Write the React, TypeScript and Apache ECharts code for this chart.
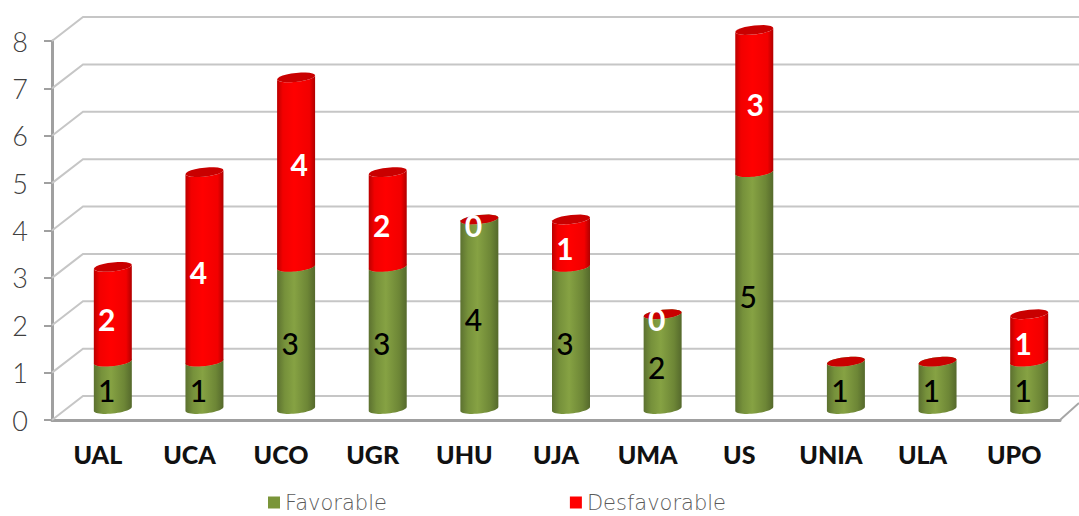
import React, { useEffect, useRef } from "react";
import * as echarts from "echarts";

const universities = ["UAL", "UCA", "UCO", "UGR", "UHU", "UJA", "UMA", "US", "UNIA", "ULA", "UPO"];
const favorable = [1, 1, 3, 3, 4, 3, 2, 5, 1, 1, 1];
const desfavorable: (number | null)[] = [2, 4, 4, 2, 0, 1, 0, 3, null, null, 1];
const yTicks = [0, 1, 2, 3, 4, 5, 6, 7, 8];

const FONT = "Lato, 'Open Sans', sans-serif";
const DEPTH_X = 31;
const DEPTH_Y = 24;
const BAR_SHIFT_X = 15;
const BAR_SHIFT_Y = 11;
const HALF = 19;
const RY = 4.5;
const TILT = 2;

// Two red labels sit away from their usual place in the picture.
const redLabelNudge: Record<string, number[]> = { UCO: [9, -13], US: [7, -2] };

function arc(cx: number, cy: number, from: number, to: number) {
  const pts: number[][] = [];
  const n = 24;
  for (let i = 0; i <= n; i++) {
    const t = from + ((to - from) * i) / n;
    pts.push([cx + HALF * Math.cos(t), cy + RY * Math.sin(t) - TILT * Math.cos(t)]);
  }
  return pts;
}

const gradGreen = () =>
  new echarts.graphic.LinearGradient(0, 0, 1, 0, [
    { offset: 0, color: "#5c7130" },
    { offset: 0.2, color: "#76913b" },
    { offset: 0.45, color: "#86a243" },
    { offset: 0.8, color: "#6d8636" },
    { offset: 1, color: "#55692c" },
  ]);
const gradRed = () =>
  new echarts.graphic.LinearGradient(0, 0, 1, 0, [
    { offset: 0, color: "#bb0000" },
    { offset: 0.15, color: "#f20000" },
    { offset: 0.45, color: "#ff0000" },
    { offset: 0.85, color: "#f20000" },
    { offset: 1, color: "#b00000" },
  ]);

function cylinder(
  gradient: () => any,
  capColor: string,
  labelColor: string,
  labelWeight: number,
  labelDx: number,
  nudge: Record<string, number[]>
) {
  return (_: any, api: any) => {
    const idx = api.value(0) as number;
    const start = api.value(1) as number;
    const end = api.value(2) as number;
    const text = api.value(3);
    const a = api.coord([idx, start]);
    const b = api.coord([idx, end]);
    const m = api.coord([idx, (start + end) / 2]);
    const cx = a[0] + BAR_SHIFT_X;
    const yBottom = a[1] - BAR_SHIFT_Y;
    const yTop = b[1] - BAR_SHIFT_Y;
    const children: any[] = [];
    if (end > start) {
      children.push({
        type: "polygon",
        shape: { points: [...arc(cx, yBottom, 0, Math.PI), ...arc(cx, yTop, Math.PI, 0)] },
        style: { fill: gradient() },
      });
    }
    children.push({
      type: "polygon",
      shape: { points: arc(cx, yTop, 0, Math.PI * 2) },
      style: { fill: capColor },
    });
    if (text !== null && text !== undefined && !Number.isNaN(text)) {
      const shift = nudge[universities[idx]] || [0, 0];
      children.push({
        type: "text",
        x: m[0] + labelDx + shift[0],
        y: m[1] - 6 + shift[1],
        style: {
          text: String(text),
          fill: labelColor,
          font: `${labelWeight} 30px ${FONT}`,
          textAlign: "center",
          textVerticalAlign: "middle",
        },
      });
    }
    return { type: "group", children };
  };
}

export default function App() {
  const ref = useRef<HTMLDivElement>(null);
  useEffect(() => {
    const chart = echarts.init(ref.current!, undefined, { renderer: "svg" });
    const wallStyle = { stroke: "#c6c6c6", lineWidth: 2, fill: "none" };
    const renderWall = (params: any, api: any) => {
      const p = api.coord([0, api.value(1)]);
      const x0 = params.coordSys.x;
      return {
        type: "polyline",
        shape: { points: [[x0, p[1]], [x0 + DEPTH_X, p[1] - DEPTH_Y], [1079, p[1] - DEPTH_Y]] },
        style: wallStyle,
      };
    };
    const renderFloorEdge = (params: any) => {
      const x1 = params.coordSys.x + params.coordSys.width;
      const y1 = params.coordSys.y + params.coordSys.height;
      return {
        type: "line",
        shape: { x1, y1, x2: x1 + 19, y2: y1 - 17 },
        style: { stroke: "#a6a6a6", lineWidth: 2 },
      };
    };
    chart.setOption({
      animation: false,
      backgroundColor: "#ffffff",
      grid: { left: 52, right: 19, top: 41, bottom: 96 },
      legend: {
        data: [{ name: "Favorable" }, { name: "Desfavorable" }],
        left: 268,
        top: 492,
        padding: 0,
        itemWidth: 12,
        itemHeight: 12,
        itemGap: 183,
        icon: "rect",
        textStyle: {
          fontFamily: "'DejaVu Sans', Lato, sans-serif",
          fontSize: 21,
          color: "#5a5a5a",
          fontWeight: 200,
        },
      },
      xAxis: {
        type: "category",
        data: universities,
        axisLine: { lineStyle: { color: "#a0a0a0", width: 3 } },
        axisTick: { length: 8, lineStyle: { color: "#a0a0a0", width: 2 } },
        axisLabel: {
          fontFamily: FONT,
          fontWeight: 900,
          fontSize: 25,
          color: "#111111",
          margin: 21,
          interval: 0,
        },
      },
      yAxis: {
        type: "value",
        min: 0,
        max: 8,
        interval: 1,
        splitLine: { show: false },
        axisLine: { show: true, lineStyle: { color: "#a0a0a0", width: 3 } },
        axisTick: { show: true, length: 8, lineStyle: { color: "#a0a0a0", width: 2 } },
        axisLabel: {
          fontFamily: FONT,
          fontWeight: 300,
          fontSize: 27,
          color: "#404040",
          margin: 24,
        },
      },
      series: [
        {
          type: "custom",
          name: "wall",
          silent: true,
          z: 1,
          renderItem: renderWall,
          data: yTicks.map((v) => [0, v]),
          encode: { x: 0, y: 1 },
        },
        {
          type: "custom",
          name: "floor",
          silent: true,
          z: 1,
          renderItem: renderFloorEdge,
          data: [[0, 0]],
          encode: { x: 0, y: 1 },
        },
        {
          type: "custom",
          name: "Favorable",
          z: 3,
          itemStyle: { color: "#7a9539" },
          renderItem: cylinder(gradGreen, "#7a9539", "#000000", 500, 9, {}),
          data: universities.map((_, i) => [i, 0, favorable[i], favorable[i]]),
          encode: { x: 0, y: [1, 2] },
        },
        {
          type: "custom",
          name: "Desfavorable",
          z: 4,
          itemStyle: { color: "#ff0000" },
          renderItem: cylinder(gradRed, "#c90000", "#ffffff", 700, 9, redLabelNudge),
          data: universities.map((_, i) => {
            const d = desfavorable[i];
            return [i, favorable[i], favorable[i] + (d ?? 0), d];
          }),
          encode: { x: 0, y: [1, 2] },
        },
      ],
    });
    return () => chart.dispose();
  }, []);
  return <div ref={ref} style={{ position: "absolute", left: 0, top: 0, width: 1079, height: 516 }} />;
}
